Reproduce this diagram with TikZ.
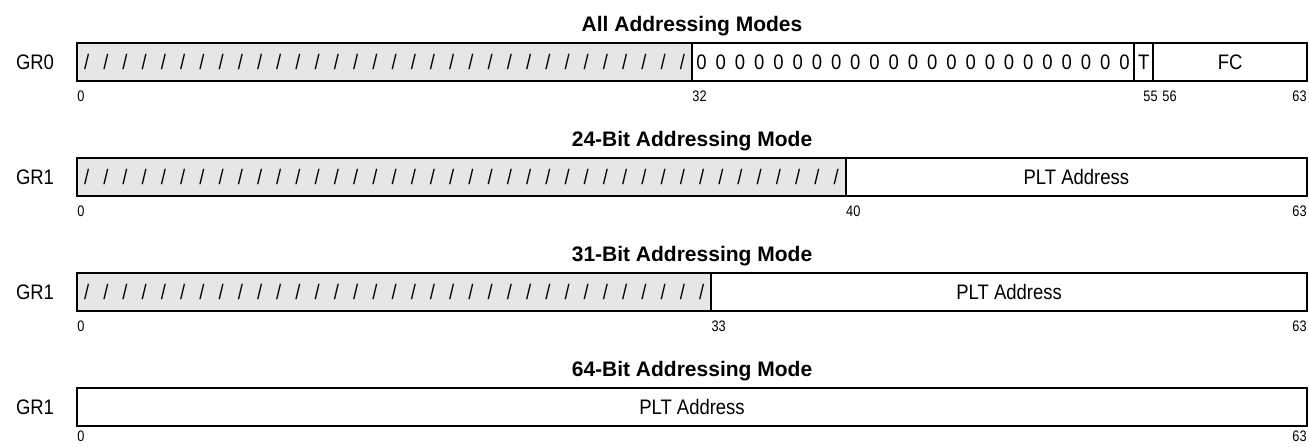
\documentclass[tikz,border=0pt]{standalone}
\usepackage{fontspec}
\setmainfont{Liberation Sans}
\newfontfamily\regfont[FakeStretch=0.88]{Liberation Sans}
\newfontfamily\numfont[FakeStretch=0.84]{Liberation Sans}
\usepackage{tikz}
\definecolor{ResGray}{RGB}{230,230,230}
\def\regx{77}
\def\bitw{19.21875}
\tikzset{
  reg/.style={draw=black,line width=1.2pt},
  resv/.style={fill=ResGray},
  fld/.style={font=\regfont\fontsize{10.5}{12}\selectfont,anchor=base,inner sep=0pt},
  bitno/.style={font=\numfont\fontsize{7.6}{8}\selectfont,anchor=base,inner sep=0pt},
  ttl/.style={font=\bfseries\fontsize{10.5}{12}\selectfont,anchor=base,inner sep=0pt},
}

\begin{document}
\begin{tikzpicture}[x=0.5pt,y=-0.5pt]
  \useasboundingbox (0,0) rectangle (1309,446);
  % GR0, all modes
  \node[ttl] (ttlall) at (692,31.7) {All Addressing Modes};
  \node[fld] (gr0) at (35,69.5) {GR0};
  \fill[resv] (\regx,43) rectangle ({\regx+32*\bitw},81);
  \draw[reg] (\regx,43) rectangle (1307,81);
  \draw[reg] ({\regx+32*\bitw},43) -- ({\regx+32*\bitw},81)
             ({\regx+55*\bitw},43) -- ({\regx+55*\bitw},81)
             ({\regx+56*\bitw},43) -- ({\regx+56*\bitw},81);
  \foreach \i in {0,...,31} \node[fld] (sa\i) at ({\regx+(\i+0.5)*\bitw},69.5) {/};
  \foreach \i in {32,...,54} \node[fld] (za\i) at ({\regx+(\i+0.5)*\bitw},69.5) {0};
  \node[fld] (tbit) at ({\regx+55.5*\bitw},69.5) {T};
  \node[fld] (fc) at ({\regx+60*\bitw},69.5) {FC};
  \node[bitno,anchor=base west] (a0) at (77,101.7) {0};
  \node[bitno,anchor=base west] (a32) at ({\regx+32*\bitw},101.7) {32};
  \node[bitno,anchor=base east] (a55) at (1158,101.7) {55};
  \node[bitno,anchor=base west] (a56) at (1162,101.7) {56};
  \node[bitno,anchor=base east] (a63) at (1307,101.7) {63};
  % GR1, 24-bit
  \node[ttl] (ttl24) at (692,146.7) {24-Bit Addressing Mode};
  \node[fld] (gr1a) at (35,184.5) {GR1};
  \fill[resv] (\regx,158) rectangle ({\regx+40*\bitw},196);
  \draw[reg] (\regx,158) rectangle (1307,196);
  \draw[reg] ({\regx+40*\bitw},158) -- ({\regx+40*\bitw},196);
  \foreach \i in {0,...,39} \node[fld] (sb\i) at ({\regx+(\i+0.5)*\bitw},184.5) {/};
  \node[fld] (plta) at ({(\regx+40*\bitw+1307)/2},184.5) {PLT Address};
  \node[bitno,anchor=base west] (b0) at (77,216.7) {0};
  \node[bitno,anchor=base west] (b40) at ({\regx+40*\bitw},216.7) {40};
  \node[bitno,anchor=base east] (b63) at (1307,216.7) {63};
  % GR1, 31-bit
  \node[ttl] (ttl31) at (692,261.7) {31-Bit Addressing Mode};
  \node[fld] (gr1b) at (35,299.5) {GR1};
  \fill[resv] (\regx,273) rectangle ({\regx+33*\bitw},311);
  \draw[reg] (\regx,273) rectangle (1307,311);
  \draw[reg] ({\regx+33*\bitw},273) -- ({\regx+33*\bitw},311);
  \foreach \i in {0,...,32} \node[fld] (sc\i) at ({\regx+(\i+0.5)*\bitw},299.5) {/};
  \node[fld] (pltb) at ({(\regx+33*\bitw+1307)/2},299.5) {PLT Address};
  \node[bitno,anchor=base west] (c0) at (77,331.7) {0};
  \node[bitno,anchor=base west] (c33) at ({\regx+33*\bitw},331.7) {33};
  \node[bitno,anchor=base east] (c63) at (1307,331.7) {63};
  % GR1, 64-bit
  \node[ttl] (ttl64) at (692,376.7) {64-Bit Addressing Mode};
  \node[fld] (gr1c) at (35,414.5) {GR1};
  \draw[reg] (\regx,388) rectangle (1307,426);
  \node[fld] (pltc) at (692,414.5) {PLT Address};
  \node[bitno,anchor=base west] (d0) at (77,441.5) {0};
  \node[bitno,anchor=base east] (d63) at (1307,441.5) {63};
\end{tikzpicture}
\end{document}
